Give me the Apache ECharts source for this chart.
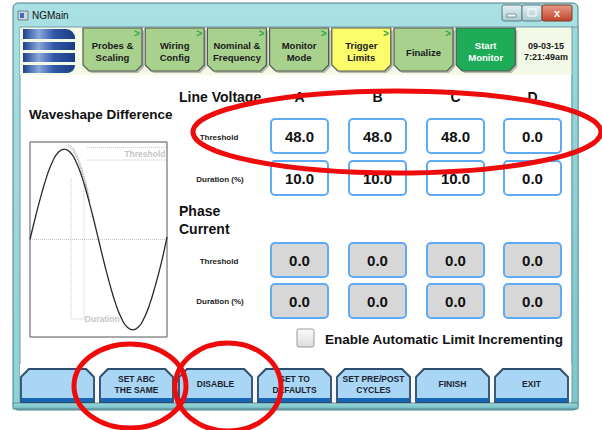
<!DOCTYPE html>
<html><head><meta charset="utf-8">
<script src="https://cdn.jsdelivr.net/npm/echarts@6/dist/echarts.min.js"></script>
<style>html,body{margin:0;padding:0;background:#fff}#c{width:602px;height:430px}</style>
</head><body><div id="c"></div>
<script>
// ---------- data ----------
const windowTitle = 'NGMain';
const tabLabels = ['Probes &\nScaling', 'Wiring\nConfig', 'Nominal &\nFrequency', 'Monitor\nMode', 'Trigger\nLimits', 'Finalize', 'Start\nMonitor'];
const dateText = '09-03-15\n7:21:49am';
const panelTitle = 'Waveshape Difference';
const phases = ['A', 'B', 'C', 'D'];
const rowLabels = ['Threshold', 'Duration (%)'];
const voltageThreshold = [48.0, 48.0, 48.0, 0.0];
const voltageDuration = [10.0, 10.0, 10.0, 0.0];
const currentThreshold = [0.0, 0.0, 0.0, 0.0];
const currentDuration = [0.0, 0.0, 0.0, 0.0];
const checkboxLabel = 'Enable Automatic Limit Incrementing';
const buttonLabels = ['', 'SET ABC\nTHE SAME', 'DISABLE', 'SET TO\nDEFAULTS', 'SET PRE/POST\nCYCLES', 'FINISH', 'EXIT'];
// waveform (degrees, relative amplitude)
const waveDeg = [0, 15, 30, 45, 60, 75, 90, 105, 120, 135, 150, 165, 180, 195, 210, 225, 240, 255, 270, 285, 300, 315, 330, 345, 360];
const waveVal = [0, 0.26, 0.5, 0.71, 0.87, 0.97, 1.0, 0.97, 0.87, 0.71, 0.5, 0.26, 0, -0.26, -0.5, -0.71, -0.87, -0.97, -1.0, -0.97, -0.87, -0.71, -0.5, -0.26, 0.03];
const bandDeg = [100, 110, 120, 130, 140, 150, 157];
const bandVal1 = [1.03, 1.0, 0.93, 0.82, 0.69, 0.54, 0.41];
const bandVal2 = [1.05, 1.03, 0.96, 0.86, 0.73, 0.57, 0.42];
const thresholdBand = [0.88, 1.02];
const durationWindow = [108, 142];
const durationLow = -0.88, durationHigh = 0.68;

// ---------- helpers ----------
const FONT = '"Liberation Sans", Arial, sans-serif';
const G = [];
function rect(x, y, w, h, fill, stroke, lw, r, z) {
  G.push({type: 'rect', z: z || 1, shape: {x, y, width: w, height: h, r: r || 0}, style: {fill: fill || 'none', stroke: stroke || 'none', lineWidth: lw || 0}, silent: true});
}
function text(x, y, s, size, color, align, bold, lh, z) {
  G.push({type: 'text', z: z || 5, x, y, style: {text: s, fill: color || '#000', font: (bold === false ? '' : 'bold ') + size + 'px ' + FONT, textAlign: align || 'left', textVerticalAlign: 'middle', lineHeight: lh || size * 1.2}, silent: true});
}
function poly(points, fill, stroke, lw, z) {
  G.push({type: 'polygon', z: z || 2, shape: {points}, style: {fill, stroke: stroke || 'none', lineWidth: lw || 0}, silent: true});
}
function vgrad(a, b) { return {type: 'linear', x: 0, y: 0, x2: 0, y2: 1, colorStops: [{offset: 0, color: a}, {offset: 1, color: b}]}; }

// window frame
rect(13, 3, 565, 407, vgrad('#a9e0e3', '#8fd0d6'), '#4f7f86', 1, 5, 0);
rect(20, 27, 552, 376, '#ffffff', '#6a9aa0', 1, 0, 0);
// title bar
rect(18, 11, 10, 9, '#cfd6dc', '#5a6b7a', 0.8, 0, 2);
rect(20, 13, 4, 5, '#3b6fb5', null, 0, 0, 3);
text(32, 15, windowTitle, 10, '#111', 'left', false);
// window controls
rect(502, 5, 20, 16, vgrad('#e4f1f3', '#a9c9cf'), '#5d7b83', 1, 2, 2);
rect(522, 5, 20, 16, vgrad('#e4f1f3', '#a9c9cf'), '#5d7b83', 1, 2, 2);
rect(542, 5, 30, 16, vgrad('#e69a86', '#c4432a'), '#7a3a2c', 1, 2, 2);
rect(507, 14, 9, 3, '#ffffff', '#44575d', 0.6, 0, 3);
rect(528, 9, 8, 7, 'none', '#ffffff', 1, 0, 3);
text(557, 13, 'x', 11, '#ffffff', 'center', true);

// tab strip
rect(20, 28, 552, 47, '#f2f9e7', null, 0, 0, 1);
// logo stripes
const logoGrad = {type: 'linear', x: 0, y: 0, x2: 1, y2: 0, colorStops: [{offset: 0, color: '#1d3f8c'}, {offset: 0.3, color: '#8aa7dc'}, {offset: 0.6, color: '#3057a8'}, {offset: 1, color: '#1d3b82'}]};
G.push({type: 'rect', z: 2, shape: {x: 23, y: 29, width: 52, height: 10, r: [0, 9, 0, 0]}, style: {fill: logoGrad}, silent: true});
rect(23, 42, 52, 8, logoGrad, null, 0, 0, 2);
rect(23, 53, 52, 9, logoGrad, null, 0, 0, 2);
G.push({type: 'rect', z: 2, shape: {x: 23, y: 65, width: 52, height: 8, r: [0, 0, 9, 0]}, style: {fill: logoGrad}, silent: true});
// tabs
tabLabels.forEach((lab, i) => {
  const x = 83 + i * 62.2, w = 59, y0 = 28, y1 = 71, c = 6;
  const fill = i === 4 ? '#fdfc6a' : (i === 6 ? '#1eac58' : '#a9d18e');
  poly([[x + 2, y1 - c + 2], [x + c + 2, y1 + 2], [x + w - c + 2, y1 + 2], [x + w + 2, y1 - c + 2], [x + w + 2, y0 + 2]], 'rgba(0,0,0,0.25)', null, 0, 2);
  poly([[x, y0], [x + w, y0], [x + w, y1 - c], [x + w - c, y1], [x + c, y1], [x, y1 - c]], fill, '#505a50', 1.2, 3);
  text(x + w / 2, lab.indexOf('\n') >= 0 ? 51 : 52, lab, 9.5, i === 6 ? '#ffffff' : '#1a1a1a', 'center', true, 12);
  if (i < 6) text(x + w - 5, 33, '>', 10, '#2aa84a', 'center', true);
});
text(546, 51, dateText, 9, '#1a1a1a', 'center', true, 11);

// left panel
text(29, 114, panelTitle, 13.5, '#111', 'left', true);
rect(30, 142, 137, 195, '#ffffff', '#555', 1, 0, 1);

// right panel
text(179, 97, 'Line Voltage', 14, '#111', 'left', true);
const colX = [271, 349, 427, 504];
phases.forEach((p, i) => text(colX[i] + 28.5, 97, p, 14, '#111', 'center', true));
text(219, 137, rowLabels[0], 8, '#222', 'center', true);
text(220, 179, rowLabels[1], 8, '#222', 'center', true);
text(179, 211, 'Phase', 14, '#111', 'left', true);
text(179, 229, 'Current', 14, '#111', 'left', true);
text(219, 261, rowLabels[0], 8, '#222', 'center', true);
text(220, 301, rowLabels[1], 8, '#222', 'center', true);
function boxRow(vals, y, fill) {
  vals.forEach((v, i) => {
    rect(colX[i], y, 57, 34, fill, '#5eaaf4', 2, 4, 2);
    text(colX[i] + 28.5, y + 17.5, v.toFixed(1), 15, '#111', 'center', true);
  });
}
boxRow(voltageThreshold, 119, '#ffffff');
boxRow(voltageDuration, 161, '#ffffff');
boxRow(currentThreshold, 243, '#d7d7d7');
boxRow(currentDuration, 284, '#d7d7d7');
rect(297, 329, 17, 18, vgrad('#fbfbfb', '#dcdcdc'), '#9a9a9a', 1, 2, 2);
text(325, 339, checkboxLabel, 13.5, '#111', 'left', true);

// right border accent
rect(572, 27, 6, 376, vgrad('#9ad9dc', '#7cc7cd'), '#5d8f95', 0.8, 0, 2);

// bottom buttons
rect(20, 364, 552, 39, vgrad('#ffffff', '#f4f4f4'), null, 0, 0, 1);
buttonLabels.forEach((lab, i) => {
  const x = 21 + i * 79, w = 73, y0 = 369, y1 = 402, c = 8;
  poly([[x - 1, y1 + 1], [x - 1, y0 + c - 1], [x + c - 1, y0 - 1], [x + w - c + 1, y0 - 1], [x + w + 1, y0 + c - 1], [x + w + 1, y1 + 1]], 'rgba(120,120,120,0.35)', null, 0, 2);
  poly([[x, y1], [x, y0 + c], [x + c, y0], [x + w - c, y0], [x + w, y0 + c], [x + w, y1]], '#a9d6f5', '#2c4d6e', 1.8, 3);
  rect(x + 1, y1 - 4, w - 2, 4, '#1766b6', null, 0, 0, 4);
  if (lab) text(x + w / 2, 384, lab, 8.5, '#1a2530', 'center', true, 11);
});
// bottom window edge
rect(13, 403, 565, 6, vgrad('#9edbde', '#6fb9c0'), '#4f7f86', 0.8, 0, 2);

// red annotations
function ell(cx, cy, rx, ry) {
  G.push({type: 'ellipse', z: 50, shape: {cx, cy, rx, ry}, style: {fill: 'none', stroke: '#ee0b0b', lineWidth: 5}, silent: true});
}
ell(397, 132, 204, 41);
ell(130, 386, 56, 42);
ell(228, 387, 53, 44);

// ---------- chart ----------
const dotted = {color: '#c4c4c4', width: 1, type: 'dotted'};
const chart = echarts.init(document.getElementById('c'), null, {renderer: 'svg', width: 602, height: 430});
chart.setOption({
  animation: false,
  backgroundColor: '#ffffff',
  graphic: {elements: G},
  grid: {left: 30, top: 142, width: 137, height: 195, show: false},
  xAxis: {type: 'value', min: 0, max: 360, show: false},
  yAxis: {type: 'value', min: -1.08, max: 1.08, show: false},
  series: [
    {type: 'line', z: 3, showSymbol: false, data: [[0, 0], [360, 0]], lineStyle: dotted},
    {type: 'line', z: 3, showSymbol: false, data: [[150, thresholdBand[1]], [358, thresholdBand[1]]], lineStyle: dotted},
    {type: 'line', z: 3, showSymbol: false, data: [[150, thresholdBand[0]], [358, thresholdBand[0]]], lineStyle: dotted},
    {type: 'line', z: 3, showSymbol: false, data: [[durationWindow[0], durationHigh], [durationWindow[0], durationLow], [durationWindow[1] + 6, durationLow]], lineStyle: dotted},
    {type: 'line', z: 3, showSymbol: false, data: [[durationWindow[1], 0.6], [durationWindow[1], durationLow]], lineStyle: dotted},
    {type: 'scatter', z: 6, symbolSize: 0, data: [[356, 0.95]], label: {show: true, position: 'left', distance: 0, formatter: 'Threshold', color: '#b4b4b4', fontWeight: 'bold', fontSize: 8.5, fontFamily: 'Liberation Sans'}},
    {type: 'scatter', z: 6, symbolSize: 0, data: [[144, durationLow]], label: {show: true, position: 'right', distance: 0, formatter: 'Duration', color: '#b4b4b4', fontWeight: 'bold', fontSize: 8.5, fontFamily: 'Liberation Sans'}},
    {type: 'line', z: 4, showSymbol: false, smooth: true, data: bandDeg.map((d, i) => [d, bandVal1[i]]), lineStyle: {color: '#8a8a8a', width: 1, type: 'dotted'}},
    {type: 'line', z: 4, showSymbol: false, smooth: true, data: bandDeg.map((d, i) => [d, bandVal2[i]]), lineStyle: {color: '#9a9a9a', width: 1, type: 'dotted'}},
    {type: 'line', z: 5, showSymbol: false, smooth: true, data: waveDeg.map((d, i) => [d, waveVal[i]]), lineStyle: {color: '#2a2a2a', width: 1.3}}
  ]
});
</script></body></html>
